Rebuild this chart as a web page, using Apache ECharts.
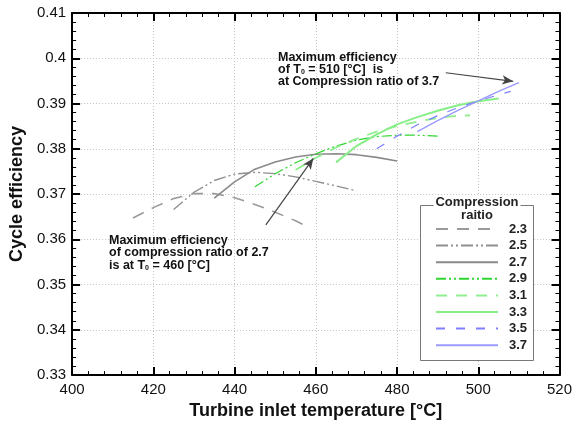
<!DOCTYPE html>
<html><head><meta charset="utf-8">
<script src="https://cdn.jsdelivr.net/npm/echarts@6/dist/echarts.min.js"></script>
<style>html,body{margin:0;padding:0;background:#fff}#c{width:575px;height:425px}</style>
</head><body><div id="c"></div>
<script>
// ---- data ----
const ratios = ['2.3', '2.5', '2.7', '2.9', '3.1', '3.3', '3.5', '3.7'];
const temp23 = [415, 420, 425, 430, 435, 440, 445, 450, 455, 458];
const eff23  = [0.3647, 0.3670, 0.3690, 0.3701, 0.3701, 0.3692, 0.3677, 0.3660, 0.3641, 0.3628];
const temp25 = [425, 430, 435, 440, 445, 450, 455, 460, 465, 470];
const eff25  = [0.3666, 0.3704, 0.3730, 0.3744, 0.3748, 0.3745, 0.3738, 0.3728, 0.3718, 0.3707];
const temp27 = [435, 440, 445, 450, 455, 460, 465, 470, 475, 480];
const eff27  = [0.3691, 0.3727, 0.3755, 0.3771, 0.3782, 0.3788, 0.3789, 0.3787, 0.3781, 0.3773];
const temp29 = [445, 450, 455, 460, 465, 470, 475, 480, 485, 490];
const eff29  = [0.3716, 0.3745, 0.3769, 0.3789, 0.3806, 0.3819, 0.3827, 0.3830, 0.3830, 0.3828];
const temp31 = [455, 460, 465, 470, 475, 480, 485, 490, 495, 498];
const eff31  = [0.3753, 0.3780, 0.3803, 0.3822, 0.3838, 0.3850, 0.3860, 0.3868, 0.3873, 0.3874];
const temp33 = [465, 470, 475, 480, 485, 490, 495, 500, 505];
const eff33  = [0.3770, 0.3806, 0.3832, 0.3854, 0.3870, 0.3884, 0.3896, 0.3905, 0.3911];
const temp35 = [475, 480, 485, 490, 495, 500, 505, 508];
const eff35  = [0.3800, 0.3828, 0.3853, 0.3873, 0.3891, 0.3906, 0.3919, 0.3927];
const temp37 = [485, 490, 495, 500, 505, 510];
const eff37  = [0.3838, 0.3862, 0.3885, 0.3906, 0.3927, 0.3946];

const xTicks = [400, 420, 440, 460, 480, 500, 520];
const yTicks = [0.33, 0.34, 0.35, 0.36, 0.37, 0.38, 0.39, 0.40, 0.41];

// annotation arrows (data coordinates: start, end)
const arrowHigh = [[492.0, 0.3968], [508.6, 0.3949]];
const arrowLow  = [[447.7, 0.3632], [459.4, 0.3779]];

// ---- styles ----
const temps = [temp23, temp25, temp27, temp29, temp31, temp33, temp35, temp37];
const effs  = [eff23, eff25, eff27, eff29, eff31, eff33, eff35, eff37];
const styles = [
  {color: '#9a9a9a', width: 1.6, type: [12, 9]},
  {color: '#8f8f8f', width: 1.4, type: [12, 3, 2, 3, 2, 3]},
  {color: '#8a8a8a', width: 1.6, type: 'solid'},
  {color: '#2fd62f', width: 1.2, type: [10, 3, 2, 3, 2, 3]},
  {color: '#90ee90', width: 1.8, type: [11, 9]},
  {color: '#88ee88', width: 2.0, type: 'solid'},
  {color: '#7f7fff', width: 1.2, type: [9, 11]},
  {color: '#9a9aff', width: 1.4, type: 'solid'}
];
const FONT = 'Liberation Sans, Arial, sans-serif';

const series = ratios.map((r, i) => ({
  name: r,
  type: 'line',
  symbol: 'none',
  showSymbol: false,
  data: temps[i].map((t, j) => [t, effs[i][j]]),
  lineStyle: {color: styles[i].color, width: styles[i].width, type: styles[i].type},
  itemStyle: {color: styles[i].color},
  z: 3
}));
series.push({
  name: 'annot', type: 'line', data: [], xAxisIndex: 0, yAxisIndex: 0,
  markLine: {
    silent: true, animation: false,
    symbol: ['none', 'arrow'], symbolSize: [7, 11],
    label: {show: false},
    lineStyle: {color: '#444', width: 1.2, type: 'solid'},
    data: [
      [{coord: arrowHigh[0]}, {coord: arrowHigh[1]}],
      [{coord: arrowLow[0]}, {coord: arrowLow[1]}]
    ]
  }
});

function fmtY(v) { return String(Number(v.toFixed(2))); }

const axisCommon = {
  axisLine: {show: true, onZero: false, lineStyle: {color: '#000', width: 2}},
  axisTick: {show: true, inside: true, length: 8, lineStyle: {color: '#000', width: 2}},
  minorTick: {show: true, splitNumber: 5, length: 4, lineStyle: {color: '#000', width: 1}},
};

const chart = echarts.init(document.getElementById('c'), null, {renderer: 'canvas'});
chart.setOption({
  animation: false,
  backgroundColor: '#fff',
  grid: {left: 64, right: 14, top: 13, bottom: 46},
  xAxis: [
    Object.assign({
      type: 'value', min: xTicks[0], max: xTicks[xTicks.length - 1], interval: 20,
      position: 'bottom',
      name: 'Turbine inlet temperature [°C]', nameLocation: 'middle', nameGap: 25,
      nameTextStyle: {fontFamily: FONT, fontWeight: 'bold', fontSize: 18, color: '#111'},
      axisLabel: {fontFamily: FONT, fontSize: 15, color: '#111', margin: 7},
      splitLine: {show: true, lineStyle: {color: '#c4c4c4', type: [1, 2], width: 1}}
    }, axisCommon),
    Object.assign({
      type: 'value', min: xTicks[0], max: xTicks[xTicks.length - 1], interval: 20,
      position: 'top', axisLabel: {show: false}, splitLine: {show: false}
    }, axisCommon)
  ],
  yAxis: [
    Object.assign({
      type: 'value', min: yTicks[0], max: yTicks[yTicks.length - 1], interval: 0.01,
      position: 'left',
      name: 'Cycle efficiency', nameLocation: 'middle', nameGap: 38,
      nameTextStyle: {fontFamily: FONT, fontWeight: 'bold', fontSize: 18, color: '#111'},
      axisLabel: {fontFamily: FONT, fontSize: 15, color: '#111', margin: 6, formatter: fmtY},
      splitLine: {show: true, lineStyle: {color: '#c4c4c4', type: [1, 2], width: 1}}
    }, axisCommon),
    Object.assign({
      type: 'value', min: yTicks[0], max: yTicks[yTicks.length - 1], interval: 0.01,
      position: 'right', axisLabel: {show: false}, splitLine: {show: false}
    }, axisCommon)
  ],
  legend: {
    data: ratios,
    orient: 'vertical',
    left: 430, top: 217,
    itemWidth: 62, itemHeight: 14, itemGap: 2.6,
    itemStyle: {opacity: 0, borderWidth: 0},
    textStyle: {fontFamily: FONT, fontWeight: 'bold', fontSize: 13, color: '#222', padding: [0, 0, 0, 6], lineHeight: 14},
    selectedMode: false,
    z: 10
  },
  graphic: {
    elements: [
      {type: 'rect', z: 5, shape: {x: 420.5, y: 205.5, width: 113, height: 155},
        style: {fill: '#fff', stroke: '#777', lineWidth: 1}},
      {type: 'text', z: 6, x: 477, y: 202,
        style: {text: 'Compression', font: 'bold 13px ' + FONT, fill: '#222', align: 'center', verticalAlign: 'middle',
          backgroundColor: '#fff', padding: [0, 2]}},
      {type: 'text', z: 6, x: 477, y: 215,
        style: {text: 'raitio', font: 'bold 13px ' + FONT, fill: '#222', align: 'center', verticalAlign: 'middle'}},
      {type: 'text', z: 6, x: 278, y: 52,
        style: {
          text: '{b|Maximum efficiency}\n{b|of T}{s|0}{b| = 510 [°C]  is}\n{b|at Compression ratio of 3.7}',
          rich: {
            b: {font: 'bold 12.5px ' + FONT, fill: '#111', lineHeight: 12},
            s: {font: 'bold 7px ' + FONT, fill: '#111', lineHeight: 12, verticalAlign: 'bottom'}
          }
        }},
      {type: 'text', z: 6, x: 109, y: 234,
        style: {
          text: '{b|Maximum efficiency}\n{b|of compression ratio of 2.7}\n{b|is at T}{s|0}{b| = 460 [°C]}',
          rich: {
            b: {font: 'bold 12.5px ' + FONT, fill: '#111', lineHeight: 12.5},
            s: {font: 'bold 7px ' + FONT, fill: '#111', lineHeight: 12.5, verticalAlign: 'bottom'}
          }
        }}
    ]
  },
  series: series
});
</script>
</body></html>
